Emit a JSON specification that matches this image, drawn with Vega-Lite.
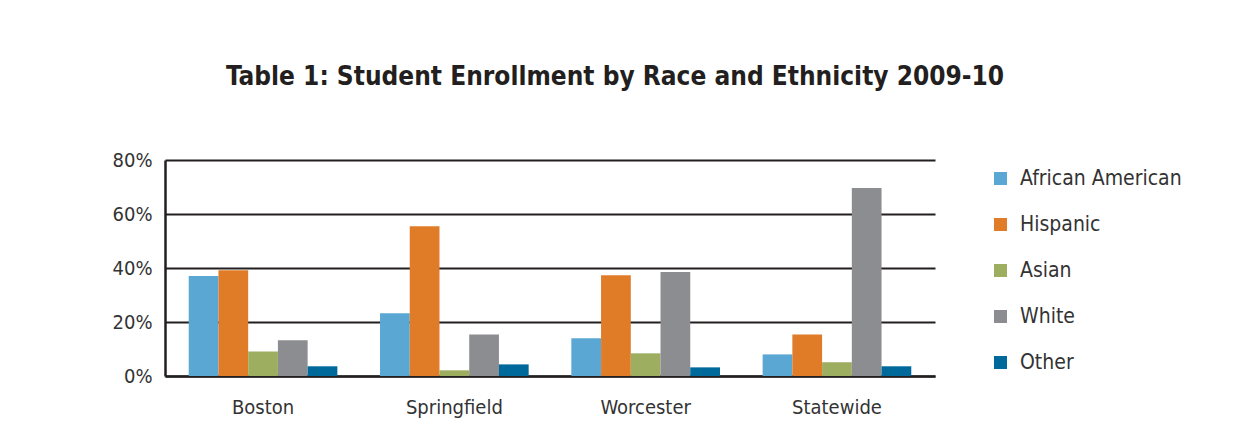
{
  "$schema": "https://vega.github.io/schema/vega-lite/v6.json",
  "width": 770,
  "height": 216,
  "autosize": {"type": "none"},
  "padding": {"left": 165, "top": 160, "right": 313, "bottom": 68},
  "background": "white",
  "title": {
    "text": "Table 1: Student Enrollment by Race and Ethnicity 2009-10",
    "font": "DejaVu Sans Condensed",
    "fontSize": 26,
    "fontWeight": "bold",
    "color": "#231f20",
    "anchor": "middle",
    "dx": 65,
    "offset": 60
  },
  "data": {
    "values": [
      {"region": "Boston", "race": "African American", "pct": 37.0},
      {"region": "Boston", "race": "Hispanic", "pct": 39.2},
      {"region": "Boston", "race": "Asian", "pct": 9.1},
      {"region": "Boston", "race": "White", "pct": 13.2},
      {"region": "Boston", "race": "Other", "pct": 3.6},
      {"region": "Springfield", "race": "African American", "pct": 23.2},
      {"region": "Springfield", "race": "Hispanic", "pct": 55.5},
      {"region": "Springfield", "race": "Asian", "pct": 2.1},
      {"region": "Springfield", "race": "White", "pct": 15.4},
      {"region": "Springfield", "race": "Other", "pct": 4.3},
      {"region": "Worcester", "race": "African American", "pct": 14.0},
      {"region": "Worcester", "race": "Hispanic", "pct": 37.3},
      {"region": "Worcester", "race": "Asian", "pct": 8.4},
      {"region": "Worcester", "race": "White", "pct": 38.5},
      {"region": "Worcester", "race": "Other", "pct": 3.2},
      {"region": "Statewide", "race": "African American", "pct": 8.0},
      {"region": "Statewide", "race": "Hispanic", "pct": 15.4},
      {"region": "Statewide", "race": "Asian", "pct": 5.1},
      {"region": "Statewide", "race": "White", "pct": 69.6},
      {"region": "Statewide", "race": "Other", "pct": 3.6}
    ]
  },
  "mark": {"type": "bar"},
  "encoding": {
    "x": {
      "field": "region",
      "type": "nominal",
      "sort": ["Boston", "Springfield", "Worcester", "Statewide"],
      "scale": {"paddingInner": 0.223, "paddingOuter": 0.124},
      "axis": {
        "title": null,
        "labelAngle": 0,
        "ticks": false,
        "domain": true,
        "domainColor": "#231f20",
        "domainWidth": 2.5,
        "labelFont": "DejaVu Sans Condensed",
        "labelFontSize": 20,
        "labelColor": "#333333",
        "labelPadding": 21
      }
    },
    "xOffset": {
      "field": "race",
      "type": "nominal",
      "sort": ["African American", "Hispanic", "Asian", "White", "Other"],
      "scale": {"paddingInner": 0, "paddingOuter": 0}
    },
    "y": {
      "field": "pct",
      "type": "quantitative",
      "scale": {"domain": [0, 80]},
      "axis": {
        "title": null,
        "values": [0, 20, 40, 60, 80],
        "labelExpr": "datum.value + '%'",
        "ticks": false,
        "domain": true,
        "domainColor": "#231f20",
        "domainWidth": 2.5,
        "grid": true,
        "gridColor": "#231f20",
        "gridWidth": 2,
        "gridOpacity": 1,
        "labelFont": "DejaVu Sans Condensed",
        "labelFontSize": 20,
        "labelColor": "#333333",
        "labelPadding": 13
      }
    },
    "color": {
      "field": "race",
      "type": "nominal",
      "sort": ["African American", "Hispanic", "Asian", "White", "Other"],
      "scale": {
        "domain": ["African American", "Hispanic", "Asian", "White", "Other"],
        "range": ["#5ba7d3", "#e07b28", "#9dae61", "#8c8d91", "#00699c"]
      },
      "legend": {
        "title": null,
        "orient": "none",
        "legendX": 825,
        "legendY": 8,
        "symbolType": "square",
        "symbolSize": 169,
        "symbolStrokeWidth": 0,
        "labelFont": "DejaVu Sans Condensed",
        "labelFontSize": 21,
        "labelColor": "#333333",
        "labelOffset": 9,
        "labelLimit": 300,
        "rowPadding": 24
      }
    }
  },
  "config": {
    "view": {"stroke": null}
  }
}
